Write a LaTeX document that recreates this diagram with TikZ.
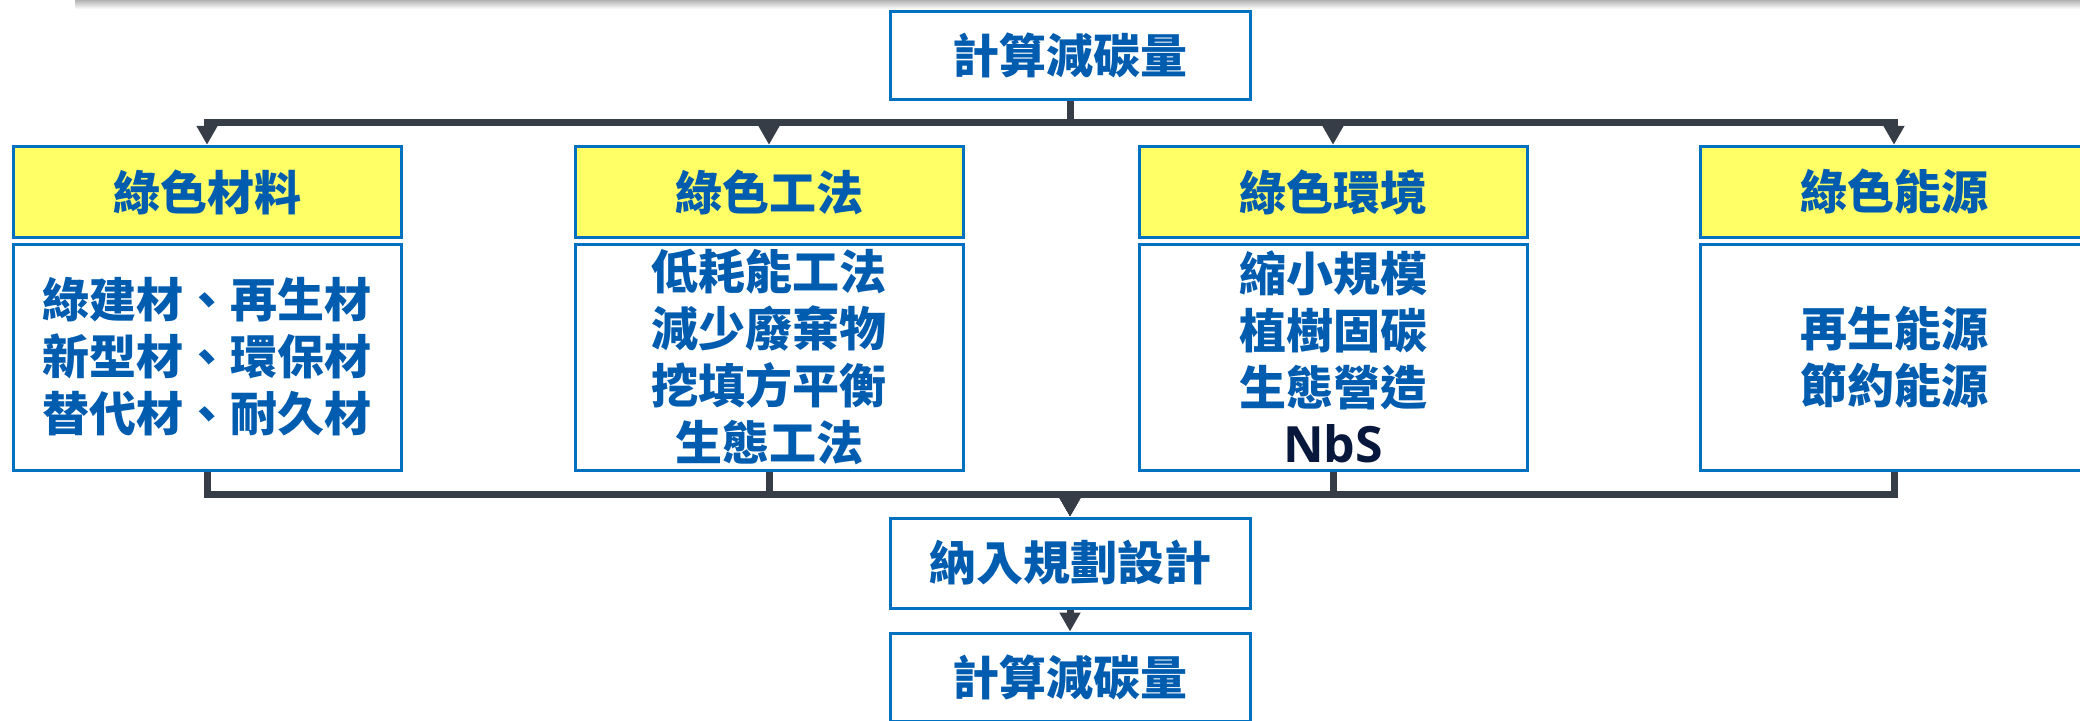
\documentclass[tikz,border=0pt]{standalone}
\usepackage{fontspec}
\setmainfont{Noto Sans CJK TC}
\newfontfamily\latinfont{Open Sans}
\usetikzlibrary{arrows.meta}
\definecolor{boxblue}{RGB}{0,112,192}
\definecolor{txtblue}{RGB}{0,92,175}
\definecolor{conncol}{RGB}{54,61,71}
\definecolor{ylw}{RGB}{255,255,102}
\definecolor{nbscol}{RGB}{8,24,60}
\begin{document}
\begin{tikzpicture}[x=0.5pt,y=-0.5pt,
  box/.style={draw=boxblue, line width=1.5pt, fill=white, inner sep=0pt, align=center, text=txtblue, font=\bfseries\fontsize{23.5}{28.5}\selectfont},
  ybox/.style={box, fill=ylw, minimum width=194pt, minimum height=45.75pt},
  wbox/.style={box, minimum width=194pt, minimum height=113pt},
  cbox/.style={box, minimum width=180pt, minimum height=44pt},
  conn/.style={draw=conncol, line width=3.5pt},
  arr/.style={conn, -{Triangle[width=10pt,length=9.5pt]}}
]
\useasboundingbox (0,0) rectangle (2080,720);
\shade[top color=black!30, bottom color=white] (75,0) rectangle (2080,9);

\node[cbox] (top) at (1070,55) {計算減碳量};

\node[ybox] (y1) at (207,192) {綠色材料};
\node[ybox] (y2) at (769,192) {綠色工法};
\node[ybox] (y3) at (1333,192) {綠色環境};
\node[ybox] (y4) at (1894,192) {綠色能源};

\node[wbox] (w1) at (207,357) {綠建材、再生材\\新型材、環保材\\替代材、耐久材};
\node[wbox] (w2) at (769,357) {低耗能工法\\減少廢棄物\\挖填方平衡\\生態工法};
\node[wbox] (w3) at (1333,357) {縮小規模\\植樹固碳\\生態營造\\{\latinfont\fontsize{25}{28.5}\selectfont\color{nbscol}NbS}};
\node[wbox] (w4) at (1894,357) {再生能源\\節約能源};

\node[cbox, minimum height=45pt] (mid) at (1070,563) {納入規劃設計};
\node[cbox] (bot) at (1070,677) {計算減碳量};

\coordinate (jt) at (1070,122);
\coordinate (jb) at (1070,494);

\foreach \n in {y1,y2,y3,y4}
  \draw[arr] (top.south) -- (jt) -| (\n.north);
\foreach \n in {w1,w2,w3,w4}
  \draw[arr] (\n.south) |- (jb) -- (mid.north);
\draw[arr] (mid.south) -- (bot.north);
\end{tikzpicture}
\end{document}
